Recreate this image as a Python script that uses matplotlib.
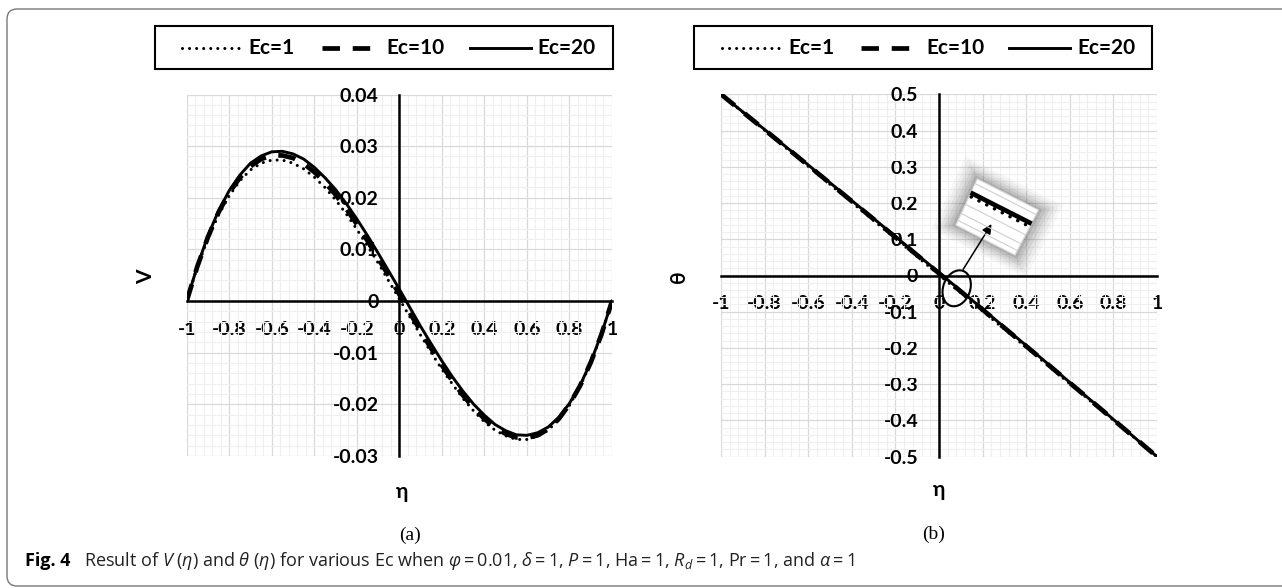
import matplotlib.pyplot as plt
from matplotlib.patches import Rectangle, FancyBboxPatch, Ellipse, Polygon, FancyArrowPatch
from matplotlib.lines import Line2D
from matplotlib.ticker import MultipleLocator, FuncFormatter

plt.rcParams['font.family'] = ['Lato', 'DejaVu Sans']
plt.rcParams['mathtext.fontset'] = 'custom'
plt.rcParams['mathtext.rm'] = 'Open Sans'
plt.rcParams['mathtext.it'] = 'Open Sans:italic'
plt.rcParams['mathtext.bf'] = 'Open Sans:bold'

# ---------- data ----------
eta_v = [-1.0, -0.95, -0.9, -0.85, -0.8, -0.75, -0.7, -0.65, -0.6, -0.55, -0.5,
         -0.45, -0.4, -0.35, -0.3, -0.25, -0.2, -0.15, -0.1, -0.05, 0.0,
         0.05, 0.1, 0.15, 0.2, 0.25, 0.3, 0.35, 0.4, 0.45, 0.5,
         0.55, 0.6, 0.65, 0.7, 0.75, 0.8, 0.85, 0.9, 0.95, 1.0]

v_ec1 = [0.0, 0.0066, 0.0121, 0.0167, 0.0204, 0.0233, 0.0254, 0.0267, 0.0273, 0.0273, 0.0267,
         0.0256, 0.0240, 0.0220, 0.0196, 0.0169, 0.0139, 0.0107, 0.0074, 0.0039, 0.0004,
         -0.0031, -0.0066, -0.0100, -0.0132, -0.0161, -0.0189, -0.0213, -0.0234, -0.0250, -0.0261,
         -0.0268, -0.0268, -0.0262, -0.0250, -0.0229, -0.0202, -0.0165, -0.0120, -0.0065, 0.0]
v_ec10 = [0.0, 0.0067, 0.0124, 0.0172, 0.0210, 0.0239, 0.0261, 0.0275, 0.0282, 0.0282, 0.0277,
          0.0266, 0.0250, 0.0230, 0.0206, 0.0179, 0.0149, 0.0117, 0.0083, 0.0049, 0.0013,
          -0.0023, -0.0058, -0.0092, -0.0124, -0.0155, -0.0183, -0.0207, -0.0228, -0.0245, -0.0257,
          -0.0264, -0.0265, -0.0260, -0.0248, -0.0228, -0.0200, -0.0164, -0.0119, -0.0065, 0.0]
v_ec20 = [0.0, 0.0068, 0.0127, 0.0175, 0.0214, 0.0244, 0.0267, 0.0281, 0.0289, 0.0290, 0.0285,
          0.0275, 0.0259, 0.0239, 0.0216, 0.0189, 0.0159, 0.0127, 0.0093, 0.0058, 0.0023,
          -0.0013, -0.0049, -0.0083, -0.0116, -0.0147, -0.0175, -0.0200, -0.0221, -0.0239, -0.0251,
          -0.0259, -0.0260, -0.0255, -0.0244, -0.0225, -0.0198, -0.0163, -0.0118, -0.0064, 0.0]

eta_t = [-1.0, -0.9, -0.8, -0.7, -0.6, -0.5, -0.4, -0.3, -0.2, -0.1, 0.0,
         0.1, 0.2, 0.3, 0.4, 0.5, 0.6, 0.7, 0.8, 0.9, 1.0]

theta_ec1 = [0.5, 0.4504, 0.4007, 0.3510, 0.3013, 0.2515, 0.2017, 0.1518, 0.1019, 0.0520, 0.0020,
             -0.0480, -0.0981, -0.1482, -0.1983, -0.2485, -0.2987, -0.3490, -0.3993, -0.4496, -0.5]
theta_ec10 = [0.5, 0.4511, 0.4022, 0.3531, 0.3038, 0.2545, 0.2050, 0.1555, 0.1058, 0.0559, 0.0060,
              -0.0441, -0.0942, -0.1445, -0.1950, -0.2455, -0.2962, -0.3469, -0.3978, -0.4489, -0.5]
theta_ec20 = [0.5, 0.4515, 0.4029, 0.3541, 0.3051, 0.2560, 0.2067, 0.1573, 0.1077, 0.0579, 0.0080,
              -0.0421, -0.0923, -0.1427, -0.1933, -0.2440, -0.2949, -0.3459, -0.3971, -0.4485, -0.5]

labels = ['Ec=1', 'Ec=10', 'Ec=20']

# ---------- canvas ----------
W, H = 1282, 588
fig = plt.figure(figsize=(W / 100, H / 100), dpi=100)


def px(x, y):
    # pixel position (from top-left) -> inches for fig.dpi_scale_trans
    return (x / 100, (H - y) / 100)


styles = [
    dict(color='black', lw=2.2, linestyle=(0, (0.01, 2.3)), dash_capstyle='round'),
    dict(color='black', lw=3.4, linestyle=(0, (3.7, 2.7))),
    dict(color='black', lw=2.1, linestyle='-'),
]


def fmt(v, pos):
    if abs(v) < 1e-9:
        return '0'
    return f'{round(v, 3):g}'


def setup(ax, ymin, ymax, ystep):
    ax.set_xlim(-1, 1)
    ax.set_ylim(ymin, ymax)
    ax.xaxis.set_major_locator(MultipleLocator(0.2))
    ax.xaxis.set_minor_locator(MultipleLocator(0.04))
    ax.yaxis.set_major_locator(MultipleLocator(ystep))
    ax.yaxis.set_minor_locator(MultipleLocator(ystep / 5))
    ax.xaxis.set_major_formatter(FuncFormatter(fmt))
    ax.yaxis.set_major_formatter(FuncFormatter(fmt))
    ax.grid(which='major', color='#d9d9d9', lw=0.9)
    ax.grid(which='minor', color='#efefef', lw=0.8)
    ax.set_axisbelow(True)
    for s in ['top', 'right']:
        ax.spines[s].set_visible(False)
    for s in ['left', 'bottom']:
        ax.spines[s].set_position(('data', 0))
        ax.spines[s].set_linewidth(1.8)
        ax.spines[s].set_color('black')
    ax.tick_params(which='both', length=0)
    ax.tick_params(axis='x', pad=14)
    ax.tick_params(axis='y', pad=15)
    for lab in ax.get_xticklabels() + ax.get_yticklabels():
        lab.set_fontsize(14)
        lab.set_fontweight('bold')


# ---------- panel (a) ----------
ax_a = fig.add_axes([186.7 / W, 1 - 456 / H, 425.3 / W, 361.5 / H])
for ys, st in zip([v_ec1, v_ec10, v_ec20], styles):
    ax_a.plot(eta_v, ys, **st)
setup(ax_a, -0.03, 0.04, 0.01)

# ---------- panel (b) ----------
ax_b = fig.add_axes([721 / W, 1 - 456.7 / H, 436 / W, 362.4 / H])
for ys, st in zip([theta_ec1, theta_ec10, theta_ec20], styles):
    ax_b.plot(eta_t, ys, **st)
setup(ax_b, -0.5, 0.5, 0.1)

# ---------- axis titles ----------
fig.text(146 / W, 1 - 277 / H, 'V', rotation=90, ha='center', va='center',
         fontsize=15, fontweight='bold')
fig.text(679 / W, 1 - 277 / H, 'θ', rotation=90, ha='center', va='center',
         fontsize=15, fontweight='bold')
fig.text(402 / W, 1 - 492 / H, 'η', ha='center', va='center', fontsize=15, fontweight='bold')
fig.text(939 / W, 1 - 490 / H, 'η', ha='center', va='center', fontsize=15, fontweight='bold')

# ---------- legends (Excel style box above each chart) ----------
for bx in [154.7, 694]:
    fig.add_artist(Rectangle(px(bx, 69), 458.3 / 100, 43 / 100, transform=fig.dpi_scale_trans,
                             fill=False, ec='black', lw=1.5))
    seg = [(27.5, 88), (167, 218), (315, 376)]
    tx = [94, 232, 383]
    for (s0, s1), t, st, lab in zip(seg, tx, styles, labels):
        p0, p1 = px(bx + s0, 47.5), px(bx + s1, 47.5)
        fig.add_artist(Line2D([p0[0], p1[0]], [p0[1], p1[1]], transform=fig.dpi_scale_trans, **st))
        tp = px(bx + t, 47.5)
        fig.text(tp[0], tp[1], lab, transform=fig.dpi_scale_trans, ha='left', va='center',
                 fontsize=15, fontweight='bold')

# ---------- magnified inset on panel (b) ----------
corners = [(977.3, 179), (1038.3, 210), (1015, 255), (956, 225)]
cx = sum(c[0] for c in corners) / 4
cy = sum(c[1] for c in corners) / 4
for k, a in [(1.6, 0.04), (1.5, 0.05), (1.4, 0.07), (1.3, 0.09), (1.2, 0.11), (1.1, 0.14)]:
    pts = [px(cx + (x - cx) * k, cy + (y - cy) * k) for x, y in corners]
    fig.add_artist(Polygon(pts, closed=True, transform=fig.dpi_scale_trans,
                           fc='#444444', ec='none', alpha=a))
fig.add_artist(Polygon([px(x, y) for x, y in corners], closed=True, transform=fig.dpi_scale_trans,
                       fc='white', ec='#dddddd', lw=0.8))
A, B, C, D = corners


def along(t, s0=0.03, s1=0.97):
    # line parallel to long edge at fraction t of the short edge
    p = (A[0] + (D[0] - A[0]) * t, A[1] + (D[1] - A[1]) * t)
    q = (B[0] + (C[0] - B[0]) * t, B[1] + (C[1] - B[1]) * t)
    a = (p[0] + (q[0] - p[0]) * s0, p[1] + (q[1] - p[1]) * s0)
    b = (p[0] + (q[0] - p[0]) * s1, p[1] + (q[1] - p[1]) * s1)
    return px(*a), px(*b)


for t in [0.1, 0.55, 0.75, 0.9]:
    a, b = along(t, 0.0, 1.0)
    fig.add_artist(Line2D([a[0], b[0]], [a[1], b[1]], transform=fig.dpi_scale_trans,
                          color='#cfcfcf', lw=0.8))
a, b = along(0.3)
fig.add_artist(Line2D([a[0], b[0]], [a[1], b[1]], transform=fig.dpi_scale_trans,
                      color='black', lw=3.4))
a, b = along(0.37)
fig.add_artist(Line2D([a[0], b[0]], [a[1], b[1]], transform=fig.dpi_scale_trans,
                      color='black', lw=2.6, linestyle=(0, (0.01, 2.4)), dash_capstyle='round'))

fig.add_artist(FancyArrowPatch(px(961.7, 271.7), px(993, 221.7), transform=fig.dpi_scale_trans,
                               arrowstyle='-|>', mutation_scale=14, lw=1.1, color='black'))
fig.add_artist(Ellipse(px(956.7, 288.3), 0.27, 0.37, angle=-20, transform=fig.dpi_scale_trans,
                       fill=False, ec='black', lw=1.5))

# ---------- sub captions and figure caption ----------
fig.text(410 / W, 1 - 535 / H, '(a)', ha='center', va='center', fontsize=14,
         family='Liberation Serif')
fig.text(934 / W, 1 - 534 / H, '(b)', ha='center', va='center', fontsize=14,
         family='Liberation Serif')

fig.text(25 / W, 1 - 566 / H, 'Fig. 4', ha='left', va='baseline', fontsize=13,
         fontweight='bold', family='Open Sans')
caption = (r"Result of $V$ ($\eta$) and $\theta$ ($\eta$) for various Ec when $\varphi = 0.01$, "
           r"$\delta = 1$, $P = 1$, $\mathrm{Ha} = 1$, $R_d = 1$, $\mathrm{Pr} = 1$, and $\alpha = 1$")
fig.text(84 / W, 1 - 566 / H, caption, ha='left', va='baseline', fontsize=13,
         family='Open Sans', color='#222222')

# ---------- rounded outer frame ----------
fig.add_artist(FancyBboxPatch(px(7, 586), 1300 / 100, 577 / 100, transform=fig.dpi_scale_trans,
                              boxstyle='round,pad=0,rounding_size=0.1', fill=False,
                              ec='#777777', lw=1.0))

plt.savefig('out.png', dpi=100)
plt.close()
